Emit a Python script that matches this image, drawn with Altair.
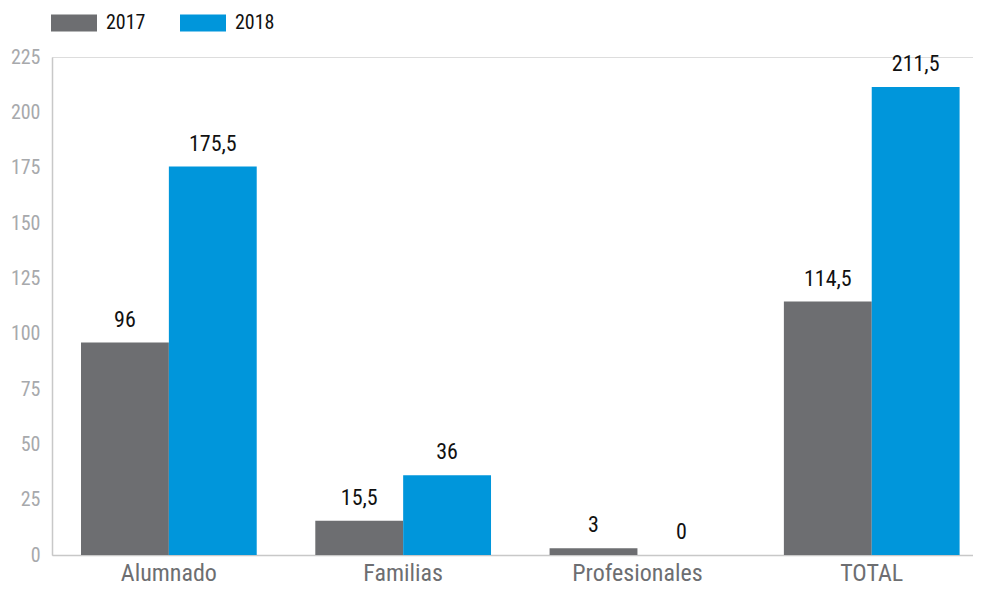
import altair as alt
import pandas as pd

categories = ["Alumnado", "Familias", "Profesionales", "TOTAL"]
years = ["2017", "2018"]
values_2017 = [96, 15.5, 3, 114.5]
values_2018 = [175.5, 36, 0, 211.5]
y_ticks = [0, 25, 50, 75, 100, 125, 150, 175, 200, 225]

rows = []
for c, v17, v18 in zip(categories, values_2017, values_2018):
    for yr, v in (("2017", v17), ("2018", v18)):
        lab = (f"{v:.1f}" if v % 1 else f"{int(v)}").replace(".", ",")
        rows.append({"categoria": c, "anio": yr, "valor": v, "etiqueta": lab})
df = pd.DataFrame(rows)

FONT = "Roboto Condensed"
GRAY = "#6d6e71"
BLUE = "#0096db"

x = alt.X("categoria:N", sort=categories, title=None,
          scale=alt.Scale(paddingInner=0.25, paddingOuter=0.0905, align=0.684),
          axis=alt.Axis(labelAngle=0, labelFont=FONT, labelFontSize=24,
                        labelColor=GRAY, labelPadding=6, ticks=False,
                        domainColor="#c8c8c8", domainWidth=1.5))
xoff = alt.XOffset("anio:N", sort=years, scale=alt.Scale(paddingInner=0, paddingOuter=0))
y = alt.Y("valor:Q", title=None,
          scale=alt.Scale(domain=[0, 225], nice=False),
          axis=alt.Axis(values=y_ticks, grid=False, ticks=False, labelFont=FONT,
                        labelFontSize=20, labelColor="#a7a9ac", labelPadding=12,
                        domainColor="#c8c8c8", domainWidth=1.5))

color = alt.Color("anio:N", sort=years, title=None,
                  scale=alt.Scale(domain=years, range=[GRAY, BLUE]),
                  legend=alt.Legend(orient="none", legendX=-1, legendY=-57,
                                    direction="horizontal",
                                    symbolType="M-1,-0.37H1V0.37H-1Z",
                                    symbolSize=2116, symbolStrokeWidth=0,
                                    symbolOpacity=1,
                                    labelFont=FONT, labelFontSize=20,
                                    labelColor="#111111", labelOffset=9,
                                    columnPadding=34, padding=0))

bars = alt.Chart(df).mark_bar(strokeWidth=0).encode(x=x, xOffset=xoff, y=y, color=color)
texts = alt.Chart(df).mark_text(baseline="bottom", dy=-11, font=FONT,
                                fontSize=22, color="#111111").encode(
    x=x, xOffset=xoff, y=y, text="etiqueta:N")

chart = (bars + texts).properties(
    width=921, height=498,
    autosize=alt.AutoSizeParams(type="none"),
    padding={"left": 44, "top": 49, "right": 0, "bottom": 33},
).configure_view(strokeWidth=0).configure(background="white")

chart.save("out.html", embed_options={"renderer": "svg", "actions": False})
